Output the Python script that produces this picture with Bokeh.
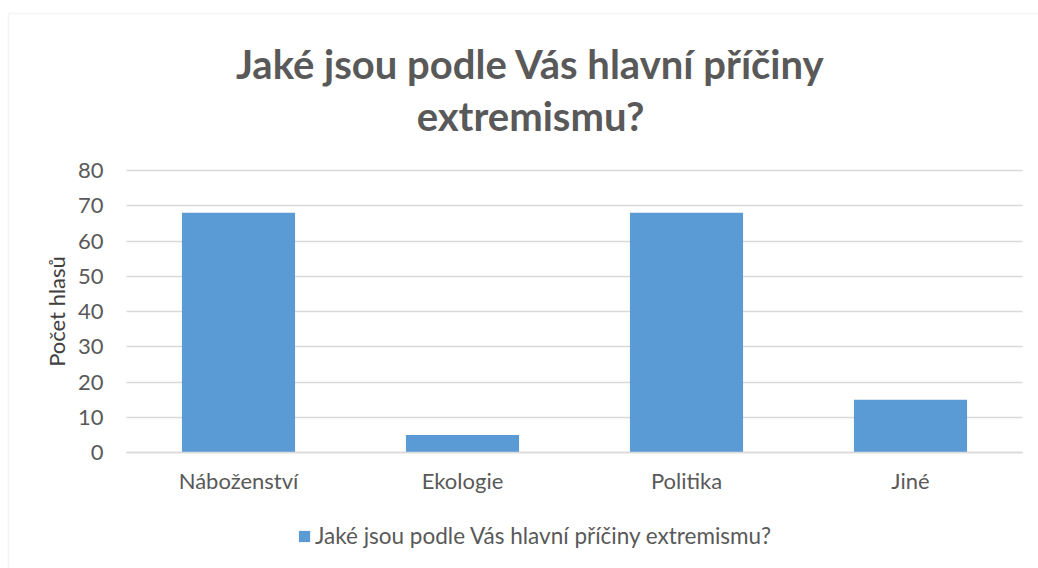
from bokeh.plotting import figure
from bokeh.models import (Range1d, Legend, LegendItem, Label, ColumnDataSource,
                          FixedTicker, BoxAnnotation, Grid)
from bokeh.embed import file_html
from bokeh.resources import INLINE

categories = ["Náboženství", "Ekologie", "Politika", "Jiné"]
values = [68, 5, 68, 15]
series_name = "Jaké jsou podle Vás hlavní příčiny extremismu?"
title_lines = ["Jaké jsou podle Vás hlavní příčiny", "extremismu?"]
y_axis_label = "Počet hlasů"
y_ticks = [0, 10, 20, 30, 40, 50, 60, 70, 80]

FONT = "Lato"
GRAY = "#595959"
W, H = 1038, 568
# plot-area placement on the canvas (pixels)
PL, PR, PT, PB = 126, 1022, 170, 452
YMAX = 80
ncat = len(categories)
xs_px = (PR - PL) / ncat
ys_px = (PB - PT) / YMAX

def dx(px):
    return (px - PL) / xs_px

def dy(py):
    return (PB - py) / ys_px

p = figure(
    x_range=Range1d(dx(0), dx(W)),
    y_range=Range1d(dy(H), dy(0)),
    width=W, height=H,
    output_backend="svg", toolbar_location=None,
    min_border=0, min_border_left=0, min_border_right=0,
    min_border_top=0, min_border_bottom=0,
    outline_line_color=None,
)

positions = [i + 0.5 for i in range(ncat)]
src = ColumnDataSource(dict(x=positions, val=values, cat=categories))
r = p.vbar(x="x", top="val", width=0.505, source=src,
           fill_color="#5b9bd5", line_color=None)

# outer chart border
p.add_layout(BoxAnnotation(left=dx(8), top=dy(13), right=dx(W + 50), bottom=dy(H + 50),
                           fill_alpha=0, line_color="#d9d9d9", line_width=1.5))

# title
for txt, py in zip(title_lines, [63, 115]):
    p.add_layout(Label(x=dx(530), y=dy(py), text=txt, text_align="center",
                       text_baseline="alphabetic", text_font=FONT,
                       text_font_size="40px", text_font_style="bold",
                       text_color=GRAY))

# y axis
ya = p.yaxis[0]
ya.fixed_location = 0
ya.bounds = (0, YMAX)
ya.ticker = FixedTicker(ticks=y_ticks)
ya.axis_line_color = None
ya.major_tick_line_color = None
ya.minor_tick_line_color = None
ya.major_tick_out = 0
ya.major_tick_in = 0
ya.major_label_text_font = FONT
ya.major_label_text_font_size = "22px"
ya.major_label_text_color = GRAY
ya.major_label_standoff = 23
ya.axis_label = y_axis_label
ya.axis_label_text_font = FONT
ya.axis_label_text_font_size = "22px"
ya.axis_label_text_font_style = "normal"
ya.axis_label_text_color = "#404040"
ya.axis_label_standoff = 5

# x axis
xa = p.xaxis[0]
xa.fixed_location = 0
xa.bounds = (0, ncat)
xa.ticker = FixedTicker(ticks=positions)
xa.major_label_overrides = {pos: cat for pos, cat in zip(positions, categories)}
xa.axis_line_color = "#d9d9d9"
xa.axis_line_width = 1.5
xa.major_tick_line_color = None
xa.minor_tick_line_color = None
xa.major_tick_out = 0
xa.major_tick_in = 0
xa.major_label_text_font = FONT
xa.major_label_text_font_size = "22px"
xa.major_label_text_color = GRAY
xa.major_label_standoff = 14

p.xgrid.grid_line_color = None
yg = p.ygrid[0]
yg.ticker = FixedTicker(ticks=y_ticks)
yg.grid_line_color = "#d9d9d9"
yg.grid_line_width = 1.5
yg.bounds = (0, YMAX)
if "cross_bounds" in Grid.properties():
    yg.cross_bounds = (0, ncat)
else:
    yg.grid_line_color = None
    p.segment(x0=0, x1=ncat, y0=y_ticks, y1=y_ticks,
              line_color="#d9d9d9", line_width=1.5, level="underlay")

legend = Legend(items=[LegendItem(label=series_name, renderers=[r])],
                location=(297, 19), orientation="horizontal")
legend.label_text_font = FONT
legend.label_text_font_size = "22.5px"
legend.label_text_color = GRAY
legend.glyph_width = 14
legend.glyph_height = 14
legend.label_standoff = 4
legend.border_line_color = None
legend.background_fill_alpha = 0
legend.margin = 0
legend.padding = 0
p.add_layout(legend, "center")

open("out.html", "w").write(file_html(p, INLINE))
